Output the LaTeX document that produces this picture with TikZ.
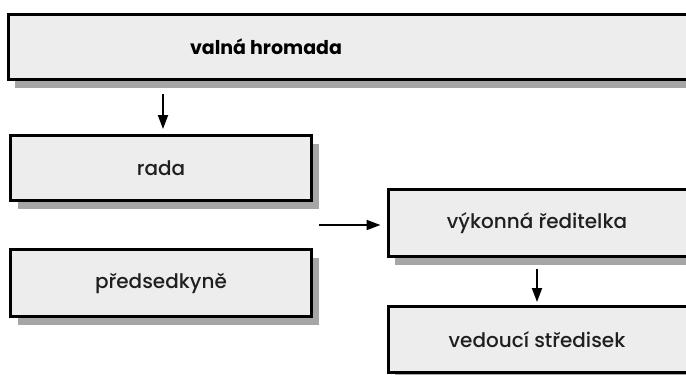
\documentclass[tikz,border=0pt]{standalone}
\usepackage{fontspec}
\setmainfont{Poppins}
\newfontfamily\medfont{Poppins Medium}
\usetikzlibrary{arrows.meta,shadows}
\definecolor{boxfill}{HTML}{EDEDED}
\definecolor{shgray}{HTML}{A6A6A6}
\tikzset{
  box/.style={draw, line width=3pt, fill=boxfill, rectangle, inner sep=0pt,
    minimum height=65pt,
    drop shadow={shadow xshift=7pt, shadow yshift=-8pt, fill=shgray, opacity=1}},
  lbl/.style={font=\medfont\fontsize{20}{23}\selectfont, inner sep=0pt, text=black!88},
  arr/.style={line width=2pt, -{Triangle[length=14pt,width=10pt]}}
}
\begin{document}
\begin{tikzpicture}[x=1pt,y=-1pt]
\clip (0,0) rectangle (686,375);
\fill[white] (0,0) rectangle (686,375);
% boxes
\node[box, minimum width=692pt] (vh) at (354,47) {};
\node[lbl, font=\fontsize{19}{22}\selectfont\bfseries, text=black] (vhtext) at (266,47) {valná hromada};
\node[box, minimum width=301pt] (rada) at (161,168) {};
\node[lbl] (radatext) at (161,168) {rada};
\node[box, minimum width=301pt, minimum height=67pt] (pr) at (161,283) {};
\node[lbl] (prtext) at (161,283) {předsedkyně};
\node[box, minimum width=312pt, minimum height=67pt] (vr) at (544,223) {};
\node[lbl] (vrtext) at (537,223) {výkonná ředitelka};
\node[box, minimum width=312pt, minimum height=66pt] (vd) at (544,339.5) {};
\node[lbl] (vdtext) at (537,339.5) {vedoucí středisek};
% connectors
\draw[arr, shorten <=13pt, shorten >=5pt] (163,0 |- vh.south) -- (163,0 |- rada.north);
\coordinate (hstart) at (319,225);
\draw[arr, shorten >=6pt] (hstart) -- (vr.west |- hstart);
\draw[arr, shorten <=11pt, shorten >=3pt] (vrtext |- vr.south) -- (vrtext |- vd.north);
\end{tikzpicture}
\end{document}
